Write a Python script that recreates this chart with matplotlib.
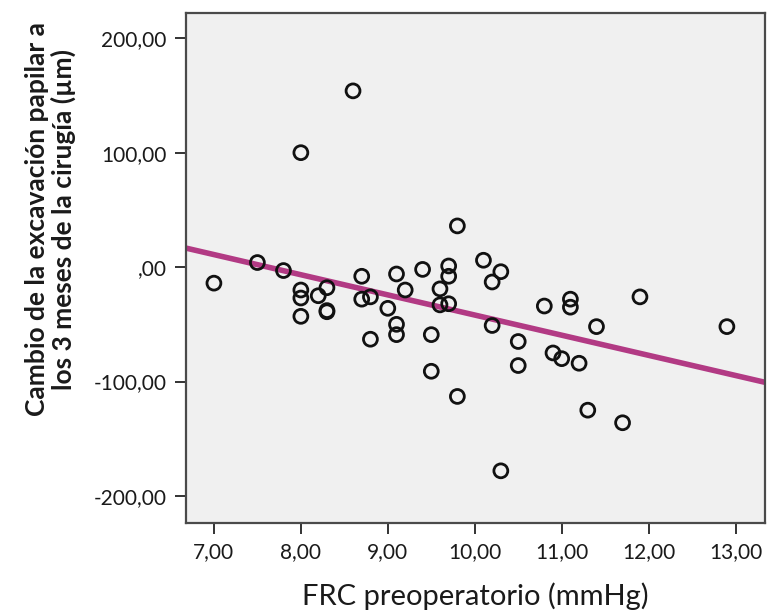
import numpy as np
import matplotlib.pyplot as plt

# FRC preoperatoria (mmHg) y cambio de la excavación papilar (µm)
frc = [7.0, 7.5, 7.8, 8.0, 8.0, 8.0, 8.0, 8.2, 8.3, 8.3, 8.3,
       8.6, 8.7, 8.7, 8.8, 8.8, 9.0, 9.1, 9.1, 9.1, 9.2, 9.4,
       9.5, 9.5, 9.6, 9.6, 9.7, 9.7, 9.7, 9.8, 9.8, 10.1, 10.2,
       10.2, 10.3, 10.3, 10.5, 10.5, 10.8, 10.9, 11.0, 11.1, 11.1,
       11.2, 11.3, 11.4, 11.7, 11.9, 12.9]
cambio = [-14, 4, -3, 100, -20, -27, -43, -25, -18, -38, -39,
          154, -8, -28, -26, -63, -36, -6, -50, -59, -20, -2,
          -59, -91, -19, -33, 1, -8, -32, 36, -113, 6, -13,
          -51, -4, -178, -65, -86, -34, -75, -80, -28, -35,
          -84, -125, -52, -136, -26, -52]

xticks = [7, 8, 9, 10, 11, 12, 13]
xtick_labels = ["7,00", "8,00", "9,00", "10,00", "11,00", "12,00", "13,00"]
yticks = [200, 100, 0, -100, -200]
ytick_labels = ["200,00", "100,00", ",00", "-100,00", "-200,00"]

plt.rcParams['font.family'] = ['Lato', 'DejaVu Sans']

fig = plt.figure(figsize=(7.69, 6.10), dpi=100)
ax = fig.add_axes([0.242, 0.1426, 0.753, 0.836])
ax.set_facecolor("#f0f0f0")

ax.scatter(frc, cambio, s=100, facecolors="none", edgecolors="#111111",
           linewidths=2.0, zorder=3)

# recta de regresión lineal
xmin, xmax = 6.68, 13.34
pend, orden = np.polyfit(frc, cambio, 1)
xs = np.array([xmin, xmax])
ax.plot(xs, orden + pend * xs, color="#b23a84", linewidth=4, zorder=2)

ax.set_xlim(xmin, xmax)
ax.set_ylim(-223.6, 222)
ax.set_xticks(xticks)
ax.set_xticklabels(xtick_labels)
ax.set_yticks(yticks)
ax.set_yticklabels(ytick_labels)
ax.tick_params(labelsize=15, length=8, width=1.4, color="#333333",
               labelcolor="#1a1a1a", pad=6)

for s in ax.spines.values():
    s.set_color("#4a4a4a")
    s.set_linewidth(1.6)

ax.set_xlabel("FRC preoperatorio (mmHg)", fontsize=21, color="#1a1a1a",
              labelpad=14)
ax.set_ylabel("Cambio de la excavación papilar a\nlos 3 meses de la cirugía (µm)",
              fontsize=19, fontweight="bold", color="#1a1a1a",
              linespacing=1.1)
ax.yaxis.set_label_coords(-0.19, 0.596)

plt.savefig("out.png", dpi=100)
